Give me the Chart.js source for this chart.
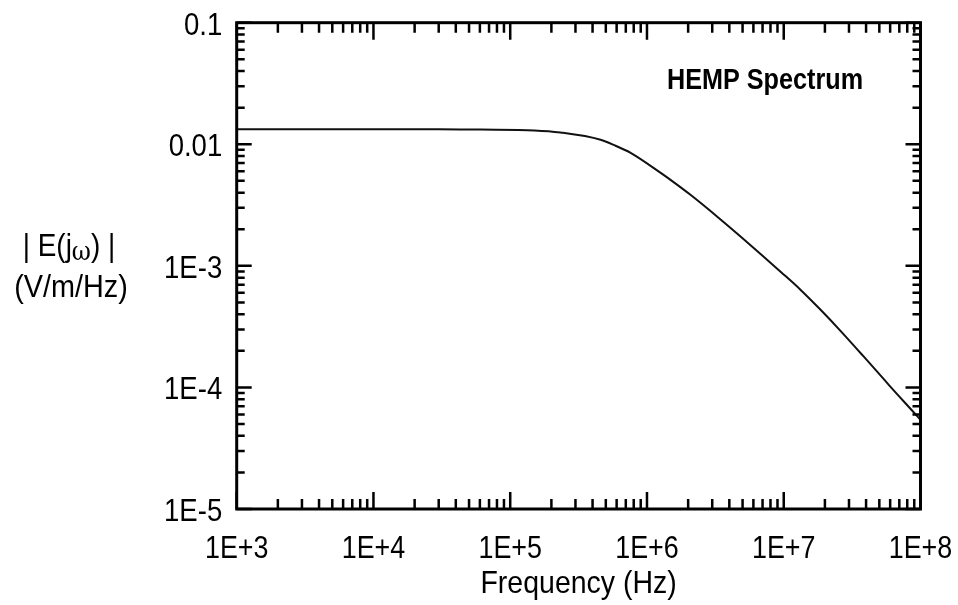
<!DOCTYPE html>
<html>
<head>
<meta charset="utf-8">
<script src="https://cdn.jsdelivr.net/npm/chart.js@4.4.1/dist/chart.umd.min.js"></script>
<style>
  html, body { margin: 0; padding: 0; background: #fff; }
  #c { display: block; }
</style>
</head>
<body>
<canvas id="c" width="958" height="605"></canvas>
<script>
// ---- data ----
const freqHz = [1e3, 3e3, 1e4, 3e4, 6.08e4, 1.5e5, 2.33e5, 4.58e5, 5.89e5, 7.59e5, 1.26e6, 1.62e6, 2.08e6, 3.45e6, 4.83e6, 6.77e6, 9.48e6, 1.33e7, 1.86e7, 2.60e7, 3.64e7, 4.82e7, 6.04e7, 9.46e7, 1e8];
const eMag   = [0.0133, 0.0133, 0.0133, 0.0133, 0.0132, 0.0130, 0.0125, 0.0109, 0.00972, 0.00851, 0.00582, 0.00475, 0.00384, 0.00241, 0.001746, 0.001253, 8.95e-4, 6.34e-4, 4.35e-4, 2.92e-4, 1.92e-4, 1.35e-4, 1.01e-4, 5.8e-5, 5.4e-5];

const xTickValues = [1e3, 1e4, 1e5, 1e6, 1e7, 1e8];
const xTickLabels = ['1E+3', '1E+4', '1E+5', '1E+6', '1E+7', '1E+8'];
const yTickValues = [1e-5, 1e-4, 1e-3, 1e-2, 1e-1];
const yTickLabels = ['1E-5', '1E-4', '1E-3', '0.01', '0.1'];

const chartTitle = 'HEMP Spectrum';
const xTitle = 'Frequency (Hz)';
const yTitleParts = ['| E(j', 'ω', ') |'];
const yTitleLine2 = '(V/m/Hz)';

const FONT = '"Liberation Sans", Arial, sans-serif';
const minorMult = [2, 3, 4, 5, 6, 7, 8, 9];

function drawText(ctx, text, x, y, font, sx, align) {
  ctx.save();
  ctx.font = font;
  ctx.translate(x, y);
  ctx.scale(sx, 1);
  ctx.textAlign = align;
  ctx.textBaseline = 'alphabetic';
  ctx.fillText(text, 0, 0);
  ctx.restore();
}

const framePlugin = {
  id: 'frame',
  afterDatasetsDraw(chart) {
    const ctx = chart.ctx;
    const a = chart.chartArea;
    const xs = chart.scales.x, ys = chart.scales.y;
    ctx.save();
    ctx.strokeStyle = '#000';
    ctx.fillStyle = '#000';
    ctx.lineCap = 'butt';
    // tick marks, inward on all four sides
    ctx.lineWidth = 2.5;
    ctx.beginPath();
    xTickValues.forEach((d, i) => {
      const mults = [1].concat(i < xTickValues.length - 1 ? minorMult : []);
      mults.forEach(m => {
        const px = xs.getPixelForValue(d * m);
        const len = m === 1 ? 17 : 10;
        ctx.moveTo(px, a.bottom); ctx.lineTo(px, a.bottom - len);
        ctx.moveTo(px, a.top); ctx.lineTo(px, a.top + len);
      });
    });
    yTickValues.forEach((d, i) => {
      const mults = [1].concat(i < yTickValues.length - 1 ? minorMult : []);
      mults.forEach(m => {
        const py = ys.getPixelForValue(d * m);
        const len = m === 1 ? 15 : 8;
        ctx.moveTo(a.left, py); ctx.lineTo(a.left + len, py);
        ctx.moveTo(a.right, py); ctx.lineTo(a.right - len, py);
      });
    });
    ctx.stroke();
    // frame
    ctx.lineWidth = 3;
    ctx.strokeRect(a.left, a.top, a.right - a.left, a.bottom - a.top);

    // tick labels (positions from the library's scales)
    const tickFont = '32px ' + FONT;
    xTickValues.forEach((v, i) => {
      drawText(ctx, xTickLabels[i], xs.getPixelForValue(v), a.bottom + 49, tickFont, 0.84, 'center');
    });
    yTickValues.forEach((v, i) => {
      drawText(ctx, yTickLabels[i], a.left - 14.5, ys.getPixelForValue(v) + 12, tickFont, 0.86, 'right');
    });

    // in-plot title
    drawText(ctx, chartTitle, 667, 88.5, 'bold 30px ' + FONT, 0.84, 'left');

    // x axis title
    drawText(ctx, xTitle, (a.left + a.right) / 2, 593, '32px ' + FONT, 0.89, 'center');

    // y axis title, horizontal, two lines
    const f1 = '31px ' + FONT, f2 = '26px "DejaVu Serif", serif';
    const sx = 0.9;
    ctx.font = f1; const w0 = ctx.measureText(yTitleParts[0]).width, w2 = ctx.measureText(yTitleParts[2]).width;
    ctx.font = f2; const w1 = ctx.measureText(yTitleParts[1]).width;
    const total = (w0 + w1 + w2) * sx;
    let x0 = 69 - total / 2;
    drawText(ctx, yTitleParts[0], x0, 256, f1, sx, 'left');
    drawText(ctx, yTitleParts[1], x0 + w0 * sx, 260, f2, sx, 'left');
    drawText(ctx, yTitleParts[2], x0 + (w0 + w1) * sx, 256, f1, sx, 'left');
    drawText(ctx, yTitleLine2, 71, 297, '32px ' + FONT, 0.9, 'center');
    ctx.restore();
  }
};

const zeroPad = s => { s.paddingLeft = 0; s.paddingRight = 0; s.paddingTop = 0; s.paddingBottom = 0; };

new Chart(document.getElementById('c'), {
  type: 'line',
  data: {
    datasets: [{
      data: freqHz.map((f, i) => ({ x: f, y: eMag[i] })),
      borderColor: '#111',
      borderWidth: 2,
      pointRadius: 0,
      fill: false,
      cubicInterpolationMode: 'monotone'
    }]
  },
  options: {
    responsive: false,
    animation: false,
    devicePixelRatio: 1,
    layout: { padding: { left: 0, top: 22.7, right: 37.5, bottom: 0 } },
    plugins: { legend: { display: false }, tooltip: { enabled: false }, title: { display: false } },
    scales: {
      x: {
        type: 'logarithmic',
        min: 1e3, max: 1e8,
        grid: { display: false, drawTicks: false },
        border: { display: false },
        ticks: { display: false },
        afterFit: s => { s.height = 96; zeroPad(s); }
      },
      y: {
        type: 'logarithmic',
        min: 1e-5, max: 1e-1,
        grid: { display: false, drawTicks: false },
        border: { display: false },
        ticks: { display: false },
        afterFit: s => { s.width = 236.7; zeroPad(s); }
      }
    }
  },
  plugins: [framePlugin]
});
</script>
</body>
</html>
